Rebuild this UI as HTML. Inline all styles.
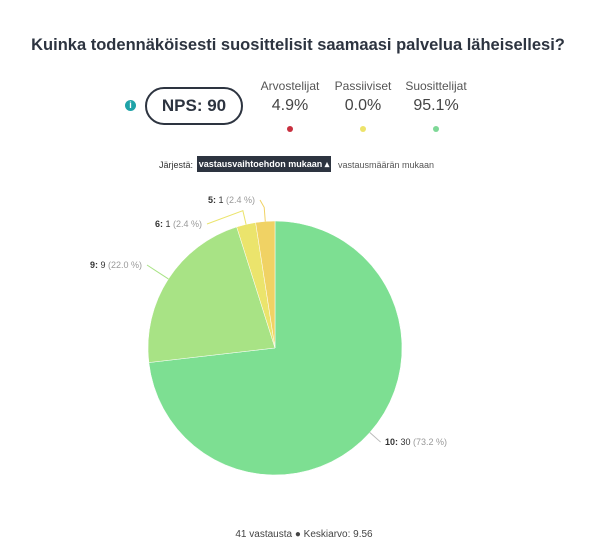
<!DOCTYPE html>
<html><head><meta charset="utf-8"><style>
body{margin:0;background:#fff;font-family:"Liberation Sans",sans-serif;color:#2d3440}
#wrap{position:relative;width:608px;height:558px;overflow:hidden}
.t{position:absolute;white-space:nowrap}
</style></head><body>
<div id="wrap">
<div class="t" style="left:0;width:596px;text-align:center;top:36px;font-size:16.5px;font-weight:bold;color:#2d3440">Kuinka todennäköisesti suosittelisit saamaasi palvelua läheisellesi?</div>
<div class="t" style="left:125px;top:100px;width:11px;height:11px;border-radius:50%;background:#1fa3a8;color:#fff;font-size:9px;font-weight:bold;text-align:center;line-height:11px">i</div>
<div class="t" style="left:145px;top:87px;width:94px;height:34px;border:2px solid #2d3440;border-radius:19px;text-align:center;line-height:34px;font-size:17px;font-weight:bold">NPS: 90</div>
<div class="t" style="left:250px;width:80px;text-align:center;top:79px;font-size:12px;color:#555">Arvostelijat</div>
<div class="t" style="left:250px;width:80px;text-align:center;top:97px;font-size:16px;color:#444">4.9%</div>
<div class="t" style="left:287px;top:126px;width:6px;height:6px;border-radius:50%;background:#c8303f"></div>
<div class="t" style="left:323px;width:80px;text-align:center;top:79px;font-size:12px;color:#555">Passiiviset</div>
<div class="t" style="left:323px;width:80px;text-align:center;top:97px;font-size:16px;color:#444">0.0%</div>
<div class="t" style="left:360px;top:126px;width:6px;height:6px;border-radius:50%;background:#ede36a"></div>
<div class="t" style="left:396px;width:80px;text-align:center;top:79px;font-size:12px;color:#555">Suosittelijat</div>
<div class="t" style="left:396px;width:80px;text-align:center;top:97px;font-size:16px;color:#444">95.1%</div>
<div class="t" style="left:433px;top:126px;width:6px;height:6px;border-radius:50%;background:#7ed897"></div>
<div class="t" style="left:159px;top:160px;font-size:9px;color:#333">Järjestä:</div>
<div class="t" style="left:197px;top:156px;width:134px;height:16px;background:#2d3440;color:#fff;font-size:9px;font-weight:bold;text-align:center;line-height:16px">vastausvaihtoehdon mukaan ▴</div>
<div class="t" style="left:338px;top:160px;font-size:9px;color:#555">vastausmäärän mukaan</div>
<svg id="pie" width="608" height="558" style="position:absolute;left:0;top:0"></svg>
<div class="t" style="left:0;width:608px;text-align:center;top:529px;font-size:10px;color:#444">41 vastausta ● Keskiarvo: 9.56</div>
</div>
<script>
const categories=["10","9","6","5"];
const counts=[30,9,1,1];
const colors=["#7ddf92","#a8e385","#ebe46c","#f0d264"];
const cx=275,cy=348,r=127;
const svg=document.getElementById('pie');
const NS="http://www.w3.org/2000/svg";
const total=counts.reduce((a,b)=>a+b,0);
function pt(a,rad){return [cx+rad*Math.sin(a),cy-rad*Math.cos(a)];}
let start=0;
const labelPos=[[385,445,"start"],[142,268,"end"],[202,227,"end"],[255,203,"end"]];
counts.forEach((v,i)=>{
  const ang=v/total*2*Math.PI, end=start+ang;
  const [x1,y1]=pt(start,r),[x2,y2]=pt(end,r);
  const p=document.createElementNS(NS,'path');
  p.setAttribute('d',`M${cx},${cy}L${x1},${y1}A${r},${r} 0 ${ang>Math.PI?1:0} 1 ${x2},${y2}Z`);
  p.setAttribute('fill',colors[i]);p.setAttribute('stroke','#fff');p.setAttribute('stroke-width','0.5');
  
  
  svg.appendChild(p);
  const mid=(start+end)/2;
  const [ex,ey]=pt(mid,r);const [ox,oy]=pt(mid,r+14);
  const [lx,ly,anc]=labelPos[i];
  const ln=document.createElementNS(NS,'polyline');
  ln.setAttribute('points',`${ex},${ey} ${ox},${oy} ${anc==="start"?lx-5:lx+5},${ly-3}`);
  ln.setAttribute('fill','none');ln.setAttribute('stroke',i==0?'#bbb':colors[i]);ln.setAttribute('stroke-width','1');
  
  
  svg.appendChild(ln);
  const t=document.createElementNS(NS,'text');
  t.setAttribute('x',lx);t.setAttribute('y',ly);t.setAttribute('text-anchor',anc);
  t.setAttribute('font-size','9');t.setAttribute('font-family','Liberation Sans, sans-serif');
  
  
  t.innerHTML=`<tspan font-weight="bold" fill="#333">${categories[i]}:</tspan><tspan fill="#333"> ${v}</tspan><tspan fill="#999"> (${(v/total*100).toFixed(1)} %)</tspan>`;
  svg.appendChild(t);
  start=end;
});
</script>
</body></html>
